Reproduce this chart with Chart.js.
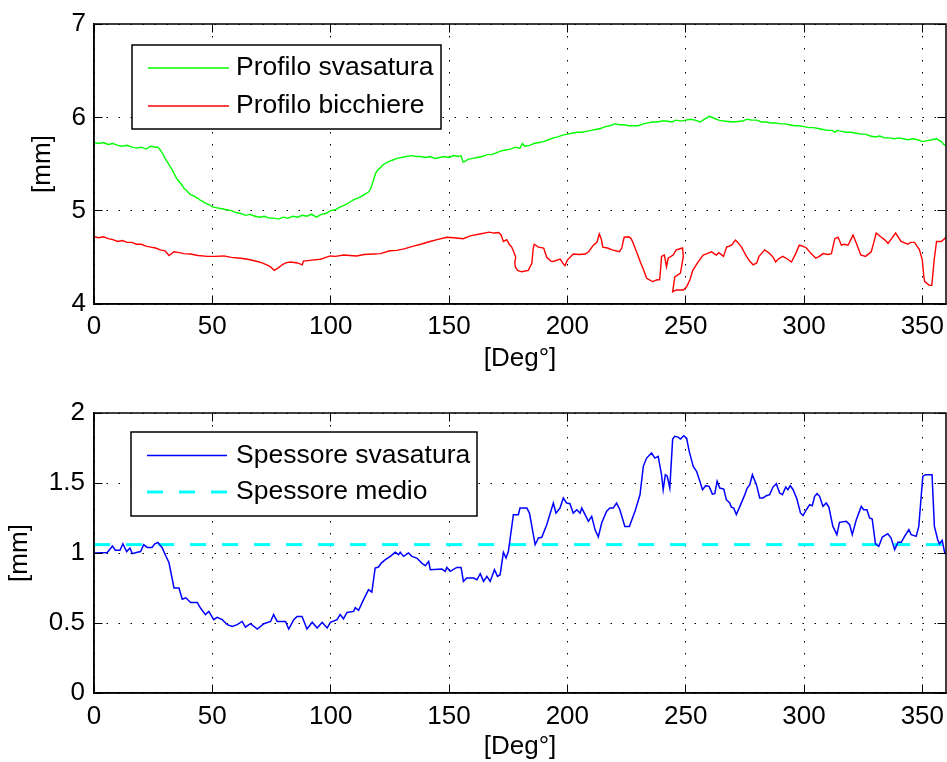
<!DOCTYPE html>
<html>
<head>
<meta charset="utf-8">
<script src="https://cdn.jsdelivr.net/npm/chart.js@4.4.0/dist/chart.umd.min.js"></script>
<style>
  html, body { margin: 0; padding: 0; background: #fff; }
  #fig { position: relative; width: 947px; height: 762px; overflow: hidden; background: #fff; }
  #fig canvas { position: absolute; left: 0; }
  #cProfili { top: 0; }
  #cSpessore { top: 381px; }
</style>
</head>
<body>
<div id="fig">
  <canvas id="cProfili" width="947" height="381"></canvas>
  <canvas id="cSpessore" width="947" height="381"></canvas>
</div>
<script>
// ---- data: angle [deg] and value [mm] ----
const svasaturaDeg = [0,2,4,6,8,10,12,14,16,18,20,22,24,26,27,28,29,30,31,32,33,34,35,36,37,38,39,40,41,42,44,45,46,47,48,49,50,52,54,56,58,60,62,64,66,68,70,72,74,76,78,80,82,84,86,88,90,92,94,96,98,100,102,104,106,108,110,112,114,116,117,118,119,120,121,122,124,126,128,130,132,134,136,138,140,142,144,146,148,150,152,154,155,156,157,158,160,162,164,166,168,170,172,174,176,178,180,181,182,184,186,188,190,192,194,196,198,200,202,204,206,208,210,212,214,216,218,220,222,224,226,228,230,232,234,236,238,240,242,244,246,248,250,252,254,256,258,260,262,264,266,268,270,272,274,276,278,280,282,284,286,288,290,292,294,296,298,300,302,304,306,308,310,312,313,314,316,318,320,322,324,326,328,330,332,334,336,338,340,342,344,346,348,350,352,354,356,358,359,360];
const svasaturaMm  = [5.73,5.72,5.73,5.71,5.72,5.70,5.69,5.70,5.68,5.67,5.68,5.66,5.69,5.68,5.68,5.65,5.61,5.56,5.52,5.48,5.44,5.39,5.34,5.31,5.28,5.24,5.22,5.19,5.17,5.16,5.13,5.11,5.10,5.08,5.07,5.06,5.04,5.03,5.02,5.01,5.00,4.98,4.97,4.95,4.96,4.94,4.93,4.94,4.92,4.92,4.91,4.93,4.92,4.94,4.93,4.95,4.94,4.96,4.93,4.96,4.97,5.00,5.01,5.04,5.06,5.09,5.12,5.14,5.17,5.20,5.24,5.32,5.40,5.44,5.46,5.49,5.52,5.54,5.56,5.57,5.58,5.59,5.58,5.58,5.57,5.58,5.56,5.57,5.58,5.57,5.59,5.58,5.59,5.52,5.53,5.55,5.56,5.57,5.58,5.60,5.60,5.62,5.64,5.65,5.66,5.68,5.67,5.72,5.69,5.70,5.72,5.73,5.74,5.76,5.78,5.79,5.81,5.82,5.83,5.84,5.84,5.85,5.86,5.87,5.88,5.90,5.91,5.93,5.92,5.92,5.91,5.91,5.91,5.93,5.94,5.95,5.95,5.96,5.96,5.95,5.97,5.96,5.97,5.98,5.97,5.95,5.98,6.01,5.99,5.97,5.96,5.955,5.95,5.955,5.96,5.98,5.97,5.97,5.95,5.95,5.94,5.94,5.93,5.93,5.92,5.91,5.91,5.90,5.89,5.89,5.88,5.87,5.86,5.86,5.84,5.86,5.85,5.84,5.84,5.83,5.82,5.82,5.80,5.79,5.80,5.78,5.78,5.77,5.78,5.77,5.76,5.77,5.76,5.74,5.75,5.76,5.77,5.74,5.71,5.70];

const bicchiereDeg = [0,2,4,6,8,10,12,14,16,18,20,22,24,26,28,30,31.7,33.8,36,38,40.8,44,47.8,51,54.9,58,61.9,65,69,71,73,74.5,76.2,78,79.5,81,83,86,88,88.5,92,95.7,98,99.9,102,105.5,108,111,114,118,121,125,128,131,135,138,142,145,149,152,156,159,163,167,169,171,172,173,174.4,175.5,176.5,177.5,178.2,177.8,178,179,180.7,183.5,185,185.6,186,187.8,190,191.3,193,194,197,198,199,200,202.5,205,207.5,209,211,212.5,213.5,214.3,215,217,219,222,223,224,226,227,228,230,231,232,233.5,236,238,239,239.5,239.8,241,241.9,242.6,244.7,246,248.7,249,247.8,245.4,244.5,246,249,250.4,251.8,253,255,257.4,259,261,262,263,264,266,267.3,269.4,271,272,273.6,275.7,277,278.5,280,281,283.4,284.5,285.5,287,288,289,291,292.5,294.7,296.5,298,299.5,301,303,305,306.5,308,310,311.6,313,314.4,315.8,317,318.6,320,320.7,322,324,326,328.4,329.5,330.5,332.7,334,335.5,337,338.7,341,343.9,345,346.7,348.8,350,350.6,351,353,354,355,356,358,359.4,360];
const bicchiereMm  = [4.72,4.71,4.72,4.70,4.69,4.67,4.68,4.66,4.66,4.64,4.64,4.62,4.61,4.60,4.58,4.57,4.52,4.56,4.55,4.54,4.535,4.52,4.51,4.51,4.515,4.50,4.49,4.48,4.455,4.44,4.42,4.40,4.36,4.39,4.42,4.44,4.45,4.44,4.42,4.46,4.47,4.48,4.50,4.515,4.51,4.525,4.52,4.515,4.53,4.535,4.54,4.57,4.575,4.59,4.62,4.64,4.67,4.69,4.715,4.71,4.70,4.73,4.75,4.77,4.76,4.765,4.74,4.67,4.69,4.64,4.61,4.55,4.50,4.45,4.40,4.36,4.345,4.36,4.435,4.60,4.64,4.61,4.60,4.50,4.46,4.455,4.48,4.44,4.41,4.47,4.535,4.53,4.535,4.56,4.63,4.66,4.75,4.70,4.61,4.60,4.58,4.56,4.60,4.715,4.72,4.70,4.64,4.51,4.44,4.38,4.275,4.24,4.26,4.26,4.40,4.51,4.525,4.40,4.49,4.525,4.58,4.60,4.51,4.33,4.29,4.13,4.15,4.15,4.185,4.26,4.36,4.44,4.525,4.54,4.56,4.54,4.525,4.55,4.51,4.61,4.63,4.685,4.66,4.61,4.51,4.46,4.42,4.44,4.51,4.58,4.56,4.54,4.50,4.45,4.48,4.51,4.49,4.45,4.54,4.63,4.62,4.60,4.54,4.49,4.51,4.54,4.53,4.54,4.70,4.715,4.63,4.64,4.63,4.70,4.74,4.66,4.525,4.51,4.56,4.66,4.76,4.715,4.69,4.65,4.70,4.76,4.67,4.64,4.66,4.66,4.58,4.47,4.30,4.24,4.20,4.20,4.47,4.67,4.67,4.70,4.72];

const spessoreDeg = [0,0.7,5.6,7.8,9,11,12.2,13.8,15.2,16.2,18.3,19.7,21,22.5,24.5,25.7,27,28.9,30.3,31.7,33.8,35.9,37.3,38.8,40.8,43.6,45,47.1,48.5,50.6,52,54.2,56.3,58.4,60.5,62.6,64,66.1,69,71.8,74.6,75.9,77.4,80.9,82.3,84.4,85.8,87.9,90,92.2,94.3,96.4,98.5,99.9,102.7,104,105.4,106.9,109.7,110.4,111.8,113.9,116,117.4,118.8,120.2,121.5,123.1,125.2,127.3,128.7,129.4,130.8,132.9,134.3,136.4,138.5,140,141.4,142.1,147,148.4,149.1,150.5,153.3,155.1,156.1,157.5,160.4,161.8,163.2,164.6,166,167.4,169.2,170.5,171.6,173,174.1,175.1,177.2,179.3,180,182.9,184,186.4,187.8,189.2,191.3,194.1,195.2,196.9,198.3,199.7,201.1,202.5,204,205.4,206.1,207.5,208.9,210.3,211.7,213.1,214.5,216.6,218,219.4,220.8,222.2,224.3,226.2,228.6,230.7,232.1,233.5,235.6,237,238.4,239.8,240.5,241.4,242.2,243.3,244.5,245.4,246.8,247.8,249.2,250.4,251.5,253.2,254.6,256,257.1,258.5,259.9,261.3,262.3,263.3,264.4,266.1,267.2,268.6,269.3,270.3,271.4,272.9,275,276,277.1,278.2,279.9,281.3,282.7,284.1,285.5,286.9,288.3,289.7,290.9,292.3,293.2,294.2,295.4,297,298.5,299.6,301,302.4,303.5,304.5,305.5,306.6,308,309.4,310.5,312.2,313.9,315,317.9,319.3,320.4,322.1,324.2,325.2,326.6,327.7,328.8,330.2,331.6,333.1,335.4,336.8,338.3,339.7,341.1,342.5,344.3,345.3,347.4,348.5,350.2,351.3,354.1,355.1,356.5,357.2,358.4,359.4,360];
const spessoreMm  = [1.00,1.00,1.004,1.05,1.02,1.02,1.066,1.01,1.035,0.995,1.005,1.01,1.06,1.04,1.04,1.066,1.075,1.035,0.98,0.93,0.75,0.75,0.67,0.68,0.647,0.647,0.607,0.56,0.583,0.524,0.54,0.524,0.488,0.476,0.488,0.511,0.47,0.495,0.457,0.495,0.511,0.56,0.511,0.511,0.457,0.524,0.547,0.547,0.457,0.505,0.464,0.505,0.464,0.505,0.524,0.56,0.53,0.575,0.583,0.61,0.59,0.667,0.738,0.72,0.893,0.90,0.93,0.952,0.976,1.005,0.988,1.005,0.976,1.0,0.976,0.964,0.928,0.909,0.94,0.881,0.885,0.869,0.897,0.869,0.897,0.897,0.797,0.821,0.821,0.809,0.852,0.797,0.833,0.797,0.881,0.833,0.845,1.005,0.964,1.012,1.274,1.274,1.321,1.321,1.285,1.059,1.107,1.112,1.202,1.357,1.285,1.321,1.393,1.357,1.352,1.285,1.309,1.285,1.321,1.274,1.226,1.262,1.167,1.114,1.214,1.298,1.321,1.321,1.357,1.309,1.19,1.19,1.298,1.416,1.619,1.678,1.714,1.678,1.69,1.559,1.452,1.559,1.55,1.464,1.814,1.833,1.828,1.814,1.838,1.821,1.726,1.619,1.583,1.512,1.452,1.481,1.476,1.421,1.424,1.512,1.464,1.457,1.381,1.357,1.328,1.321,1.274,1.333,1.417,1.464,1.488,1.559,1.488,1.393,1.393,1.409,1.417,1.471,1.495,1.428,1.417,1.471,1.452,1.481,1.452,1.386,1.286,1.267,1.309,1.345,1.338,1.405,1.424,1.405,1.333,1.357,1.328,1.19,1.131,1.219,1.226,1.202,1.131,1.238,1.333,1.309,1.309,1.25,1.243,1.066,1.048,1.114,1.138,1.107,1.024,1.076,1.076,1.119,1.167,1.131,1.119,1.19,1.547,1.559,1.559,1.19,1.095,1.066,1.09,1.005,0.99];

const medioDeg = [0, 360];
const medioMm  = [1.06, 1.06];

// ---- tick labels ----
const degTicks      = [0, 50, 100, 150, 200, 250, 300, 350];
const profiloTicks  = [4, 5, 6, 7];
const spessoreTicks = [0, 0.5, 1, 1.5, 2];

const FONT = '"Liberation Sans", Arial, Helvetica, sans-serif';
const FS = 26;
const LEGEND_FS = 26.5;
Chart.defaults.font.family = FONT;
Chart.defaults.font.size = FS;
Chart.defaults.color = '#000';

const pts = (xs, ys) => xs.map((x, i) => ({ x, y: ys[i] }));
const fixedTicks = arr => scale => { scale.ticks = arr.map(v => ({ value: v })); };

// box around the axes, inward tick marks, and a framed legend
const axesFrame = {
  id: 'axesFrame',
  afterDraw(chart, _args, o) {
    const { ctx, chartArea: a } = chart;
    const xs = chart.scales.x, ys = chart.scales.y;
    ctx.save();
    ctx.strokeStyle = '#000';
    ctx.lineWidth = 1;
    ctx.beginPath();
    for (const t of xs.ticks) {
      const p = Math.round(xs.getPixelForValue(t.value) - 0.5) + 0.5;
      ctx.moveTo(p, a.bottom); ctx.lineTo(p, a.bottom - o.tickLen);
      ctx.moveTo(p, a.top);    ctx.lineTo(p, a.top + o.tickLen);
    }
    for (const t of ys.ticks) {
      const p = Math.round(ys.getPixelForValue(t.value) - 0.5) + 0.5;
      ctx.moveTo(a.left, p);  ctx.lineTo(a.left + o.tickLen, p);
      ctx.moveTo(a.right, p); ctx.lineTo(a.right - o.tickLen, p);
    }
    ctx.stroke();
    ctx.lineWidth = 1.5;
    ctx.strokeRect(a.left, a.top, a.right - a.left, a.bottom - a.top);

    const L = o.legend;
    ctx.fillStyle = '#fff';
    ctx.fillRect(L.x, L.y, L.w, L.h);
    ctx.strokeStyle = '#000';
    ctx.lineWidth = 1.5;
    ctx.strokeRect(L.x, L.y, L.w, L.h);
    ctx.font = LEGEND_FS + 'px ' + FONT;
    ctx.textBaseline = 'middle';
    ctx.textAlign = 'left';
    chart.data.datasets.forEach((ds, i) => {
      const y = L.rowY[i];
      ctx.save();
      ctx.strokeStyle = ds.borderColor;
      ctx.lineWidth = ds.borderWidth;
      ctx.setLineDash(ds.borderDash || []);
      ctx.beginPath();
      ctx.moveTo(L.lineX0, y);
      ctx.lineTo(L.lineX1, y);
      ctx.stroke();
      ctx.restore();
      ctx.fillStyle = '#000';
      ctx.fillText(ds.label, L.textX, y);
    });
    ctx.restore();
  }
};

function axesOptions(cfg) {
  return {
    responsive: false,
    animation: false,
    devicePixelRatio: 1,
    layout: { padding: { left: 0, right: 1, top: cfg.padTop, bottom: 0 } },
    elements: { point: { radius: 0 }, line: { tension: 0 } },
    plugins: {
      legend: { display: false },
      tooltip: { enabled: false },
      axesFrame: { tickLen: 8.5, legend: cfg.legend }
    },
    scales: {
      x: {
        type: 'linear', min: 0, max: 360,
        afterBuildTicks: fixedTicks(degTicks),
        afterFit: s => { s.height = cfg.xHeight; s.paddingLeft = 0; s.paddingRight = 0; },
        ticks: { padding: cfg.xTickPad, maxRotation: 0, autoSkip: false, callback: v => String(v) },
        grid: { color: '#000', lineWidth: 1, drawTicks: false },
        border: { display: true, color: '#000', width: 1.5, dash: [1.5, 10.5] },
        title: { display: true, text: '[Deg°]', padding: { top: 0, bottom: cfg.xTitlePad } }
      },
      y: {
        type: 'linear', min: cfg.yMin, max: cfg.yMax,
        afterBuildTicks: fixedTicks(cfg.yTicks),
        afterFit: s => { s.width = 94; s.paddingTop = 0; s.paddingBottom = 0; },
        ticks: { padding: cfg.yTickPad, autoSkip: false, callback: v => String(v) },
        grid: { color: '#000', lineWidth: 1, drawTicks: false },
        border: { display: true, color: '#000', width: 1.5, dash: [1.5, 10.5] },
        title: { display: true, text: '[mm]', padding: { top: cfg.yTitlePad, bottom: 0 } }
      }
    }
  };
}

new Chart(document.getElementById('cProfili'), {
  type: 'line',
  data: {
    datasets: [
      { label: 'Profilo svasatura', data: pts(svasaturaDeg, svasaturaMm), borderColor: '#00ff00', borderWidth: 1.4 },
      { label: 'Profilo bicchiere', data: pts(bicchiereDeg, bicchiereMm), borderColor: '#ff0000', borderWidth: 1.4 }
    ]
  },
  options: axesOptions({
    padTop: 24, xHeight: 77, xTickPad: 7, xTitlePad: 7,
    yMin: 4, yMax: 7, yTicks: profiloTicks, yTickPad: 8, yTitlePad: 27,
    legend: { x: 132, y: 45, w: 309, h: 84, rowY: [68, 106], lineX0: 148, lineX1: 229, textX: 236 }
  }),
  plugins: [axesFrame]
});

new Chart(document.getElementById('cSpessore'), {
  type: 'line',
  data: {
    datasets: [
      { label: 'Spessore svasatura', data: pts(spessoreDeg, spessoreMm), borderColor: '#0000ff', borderWidth: 1.5 },
      { label: 'Spessore medio', data: pts(medioDeg, medioMm), borderColor: '#00ffff', borderWidth: 3, borderDash: [16, 16] }
    ]
  },
  options: axesOptions({
    padTop: 32, xHeight: 69, xTickPad: 8, xTitlePad: 0,
    yMin: 0, yMax: 2, yTicks: spessoreTicks, yTickPad: 9, yTitlePad: 4,
    legend: { x: 131, y: 51, w: 346, h: 84, rowY: [74.5, 111], lineX0: 147, lineX1: 227, textX: 236 }
  }),
  plugins: [axesFrame]
});
</script>
</body>
</html>
